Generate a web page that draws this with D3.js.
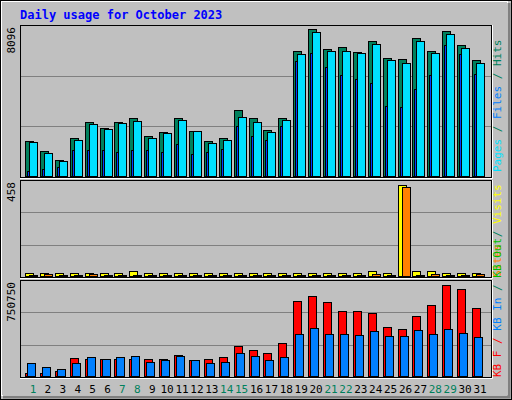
<!DOCTYPE html>
<html><head><meta charset="utf-8">
<script src="https://cdn.jsdelivr.net/npm/d3@7"></script>
<style>body{margin:0;background:#fff}</style>
</head><body><div id="chart"></div>
<script>
// data
var days = d3.range(1, 32);
var weekend = [1, 7, 8, 14, 15, 21, 22, 28, 29];
var hits = [1890,1350,864,2052,2916,2592,2916,3132,2160,2376,3132,2430,1890,2052,3564,3132,2484,3132,6750,7938,6858,6966,6696,7290,6372,6318,7452,6750,7830,7074,6264];
var files = [1836,1242,810,1944,2808,2538,2862,2970,2052,2322,3024,2430,1782,1944,3186,2916,2376,3024,6588,7776,6750,6750,6642,7128,6264,6102,7290,6642,7668,6912,6102];
var pages = [270,378,486,1404,1404,1404,1296,1404,1404,1296,1728,1188,1296,1458,2700,2160,1944,2700,6210,6642,5886,5454,5238,5022,3780,3726,4698,5454,7074,6588,5508];
var visits = [13,16,13,13,16,13,13,22,16,16,16,13,16,16,16,13,16,16,16,13,13,16,16,22,16,439,22,22,16,13,13];
var sites = [5,10,5,5,10,5,5,5,5,5,5,5,5,5,5,5,5,5,5,5,5,5,5,10,5,430,5,10,5,5,10];
var kbF = [23000,23000,39000,141000,133000,133000,133000,133000,133000,133000,164000,125000,133000,149000,235000,203000,180000,258000,594000,633000,587000,516000,516000,500000,391000,368000,477000,563000,719000,688000,540000];
var kbIn = [102000,70000,55000,102000,149000,133000,149000,156000,109000,125000,156000,125000,102000,109000,180000,156000,125000,149000,328000,383000,328000,328000,321000,352000,313000,313000,360000,328000,375000,336000,305000];
var maxHits = 8096, maxVisits = 458, maxKB = 750750;

var W = 512, H = 400;
var svg = d3.select("#chart").append("svg").attr("width", W).attr("height", H)
  .style("font-family", "'DejaVu Sans Mono', monospace");

// frame with bevel
svg.append("rect").attr("x", 0).attr("y", 0).attr("width", W).attr("height", H).attr("fill", "#c0c0c0");
svg.append("rect").attr("x", 0.5).attr("y", 0.5).attr("width", W - 1).attr("height", H - 1)
  .attr("fill", "none").attr("stroke", "#000");
svg.append("rect").attr("x", 1.5).attr("y", 1.5).attr("width", W - 6).attr("height", H - 6)
  .attr("fill", "none").attr("stroke", "#fff");
svg.append("path").attr("d", `M${W-3},3V${H-3}H3`).attr("fill", "none").attr("stroke", "#808080").attr("stroke-width", 3);

svg.append("text").attr("x", 20).attr("y", 19).attr("fill", "#0000ff")
  .attr("font-size", "12px").attr("font-weight", "bold").text("Daily usage for October 2023");

var x = d3.scaleLinear().domain([1, 31]).range([33, 480]);
var left = 20, right = 491;

// panels: top, bottom pixel, max value
var panels = [
  {top: 25, bottom: 177, max: maxHits, label: "8096"},
  {top: 180, bottom: 277, max: maxVisits, label: "458"},
  {top: 280, bottom: 377, max: maxKB, label: "750750"}
];

panels.forEach(function(p) {
  p.y = d3.scaleLinear().domain([0, p.max]).range([p.bottom - 1, p.top + 1]);
  svg.append("rect").attr("x", left + 0.5).attr("y", p.top + 0.5)
    .attr("width", right - left).attr("height", p.bottom - p.top)
    .attr("fill", "#c0c0c0").attr("stroke", "#000");
  svg.append("path").attr("d", `M${left},${p.bottom + 1.5}H${right + 1.5}V${p.top}`)
    .attr("fill", "none").attr("stroke", "#fff");
  [1, 2].forEach(function(k) {
    var gy = Math.round(p.top + (p.bottom - p.top) * k / 3) + 0.5;
    svg.append("line").attr("x1", left + 1).attr("x2", right).attr("y1", gy).attr("y2", gy)
      .attr("stroke", "#808080");
  });
  svg.append("text").attr("transform", `translate(15,${p.top + 2}) rotate(-90)`)
    .attr("text-anchor", "end").attr("font-size", "11px").attr("fill", "#000").text(p.label);
});

function bars(p, vals, dx, w, color) {
  svg.append("g").selectAll("rect").data(vals).join("rect")
    .attr("x", (d, i) => Math.round(x(days[i])) + dx + 0.5)
    .attr("y", d => Math.round(p.y(d)) + 0.5)
    .attr("width", w)
    .attr("height", d => Math.max(1, p.bottom - 1 - Math.round(p.y(d))))
    .attr("fill", color).attr("stroke", "#000");
}

bars(panels[0], hits, -8, 8, "#00805c");
bars(panels[0], files, -4, 8, "#00e0ff");
bars(panels[0], pages, -6, 2, "#0040ff");
bars(panels[1], visits, -8, 8, "#ffff00");
bars(panels[1], sites, -4, 8, "#ff8000");
bars(panels[2], kbF, -8, 8, "#ff0000");
bars(panels[2], kbIn, -6, 8, "#0080ff");

// right side legends, rotated, reading bottom to top
function legend(yBottom, parts) {
  var t = svg.append("text").attr("transform", `translate(501,${yBottom}) rotate(-90)`)
    .attr("font-size", "11px");
  parts.forEach(function(pt) { t.append("tspan").attr("fill", pt[1]).text(pt[0]); });
}
legend(172, [["Pages", "#00e0ff"], [" / ", "#00805c"], ["Files", "#0080ff"], [" / ", "#00805c"], ["Hits", "#00805c"]]);
legend(277, [["Sites", "#ff8000"], [" / ", "#00805c"], ["Visits", "#ffff00"]]);
legend(377, [["KB F", "#ff0000"], [" / ", "#ff0000"], ["KB In", "#0080ff"], [" / ", "#00805c"], ["KB Out", "#00c000"]]);

// day labels
svg.append("g").selectAll("text").data(days).join("text")
  .attr("x", d => x(d)).attr("y", 393).attr("text-anchor", "middle")
  .attr("font-size", "11px")
  .attr("fill", d => weekend.includes(d) ? "#00805c" : "#000")
  .text(d => d);
</script></body></html>
